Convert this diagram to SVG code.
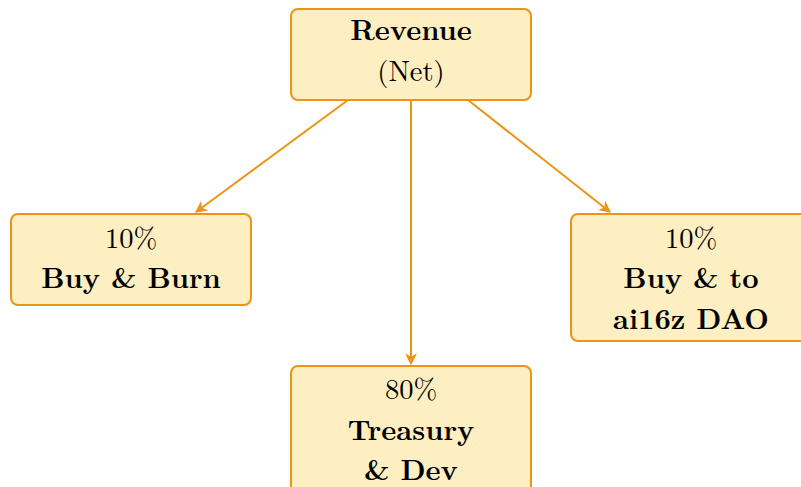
<svg xmlns="http://www.w3.org/2000/svg" width="801" height="487" viewBox="0 0 801 487">
<defs>
<style>
.box{fill:#fdefc2;stroke:#ec9413;stroke-width:2}
.t{font-family:"Latin Modern Roman","CMU Serif","DejaVu Serif",serif;font-size:28.5px;fill:#000;text-anchor:middle}
.b{font-weight:bold}
.e{stroke:#ec9413;stroke-width:2;fill:none;marker-end:url(#ah)}
</style>
<marker id="ah" viewBox="0 0 10 10" refX="9" refY="5" markerWidth="6" markerHeight="6" orient="auto" markerUnits="strokeWidth">
<path d="M0,0 L10,5 L0,10 L3,5 z" fill="#ec9413"/>
</marker>
</defs>
<g id="edges">
<line class="e" x1="348" y1="100" x2="196" y2="212"/>
<line class="e" x1="411" y1="100" x2="411" y2="364"/>
<line class="e" x1="468" y1="100" x2="610" y2="212"/>
</g>
<g id="revenue">
<rect class="box" x="291" y="9" width="240" height="91" rx="7"/>
<text class="t b" x="411" y="40">Revenue</text>
<text class="t" x="411" y="81">(Net)</text>
</g>
<g id="burn">
<rect class="box" x="11" y="214" width="240" height="91" rx="7"/>
<text class="t" x="131" y="248">10%</text>
<text class="t b" x="131" y="288">Buy &amp; Burn</text>
</g>
<g id="dao">
<rect class="box" x="571" y="214" width="240" height="127" rx="7"/>
<text class="t" x="691" y="248">10%</text>
<text class="t b" x="691" y="288">Buy &amp; to</text>
<text class="t b" x="691" y="329">ai16z DAO</text>
</g>
<g id="treasury">
<rect class="box" x="291" y="366" width="240" height="130" rx="7"/>
<text class="t" x="411" y="399">80%</text>
<text class="t b" x="411" y="440">Treasury</text>
<text class="t b" x="411" y="480">&amp; Dev</text>
</g>
</svg>
